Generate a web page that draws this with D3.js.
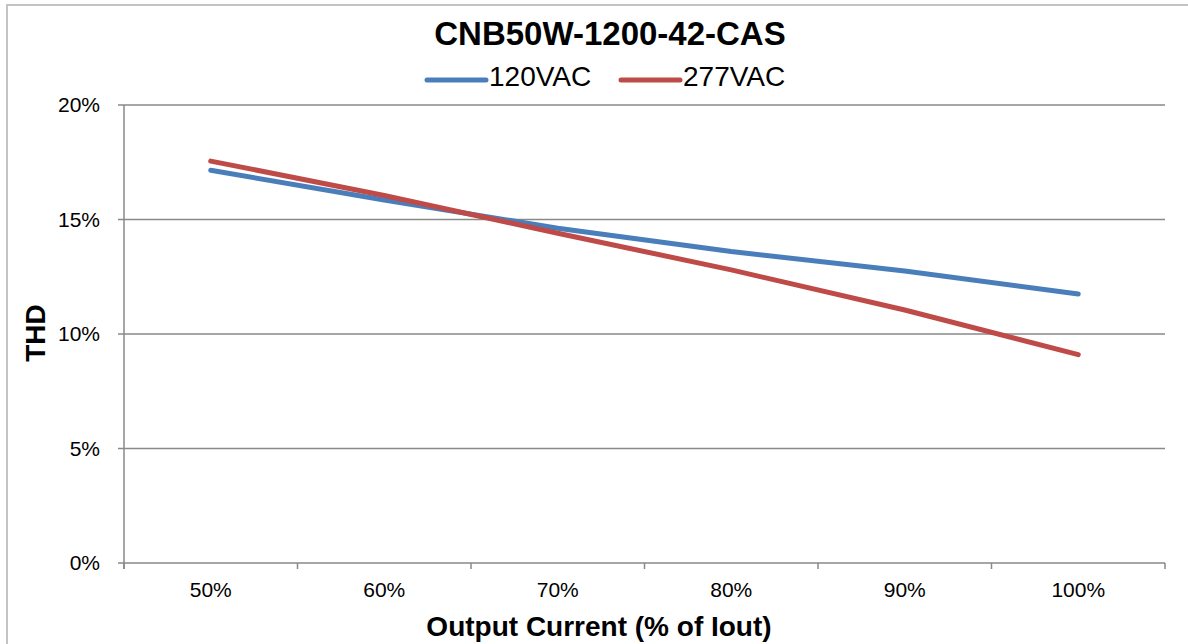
<!DOCTYPE html>
<html>
<head>
<meta charset="utf-8">
<script src="https://cdn.jsdelivr.net/npm/d3@7"></script>
<style>
  body { margin: 0; background: #fff; }
  text { font-family: "Liberation Sans", Arial, sans-serif; fill: #000; }
</style>
</head>
<body>
<svg width="1188" height="644"></svg>
<script>
// data
const categories = ["50%", "60%", "70%", "80%", "90%", "100%"];
const vac120 = [17.15, 15.85, 14.62, 13.6, 12.75, 11.75];
const vac277 = [17.55, 16.05, 14.4, 12.8, 11.05, 9.1];
const yTicks = [0, 5, 10, 15, 20];
const seriesNames = ["120VAC", "277VAC"];
const colors = ["#4a7ebb", "#be4b48"];

const svg = d3.select("svg"),
    margin = {top: 105, right: 23, bottom: 81, left: 124},
    width = 1188 - margin.left - margin.right,
    height = 644 - margin.top - margin.bottom;

// outer chart frame
svg.append("rect")
    .attr("x", 7).attr("y", 5)
    .attr("width", 1200).attr("height", 700)
    .attr("fill", "none")
    .attr("stroke", "#c3c3c3")
    .attr("stroke-width", 2);

const g = svg.append("g")
    .attr("transform", `translate(${margin.left},${margin.top})`);

const x = d3.scaleBand()
    .domain(categories)
    .range([0, width]);

const y = d3.scaleLinear()
    .domain([0, 20])
    .range([height, 0]);

// gridlines
g.append("g")
    .selectAll("line")
    .data(yTicks)
    .enter().append("line")
    .attr("x1", -6)
    .attr("x2", width)
    .attr("y1", d => y(d))
    .attr("y2", d => y(d))
    .attr("stroke", "#898989")
    .attr("stroke-width", 1.5);

// y axis
g.append("line")
    .attr("x1", 0).attr("x2", 0)
    .attr("y1", 0).attr("y2", height + 6)
    .attr("stroke", "#898989")
    .attr("stroke-width", 1.5);

g.append("g")
    .selectAll("text")
    .data(yTicks)
    .enter().append("text")
    .attr("x", -24)
    .attr("y", d => y(d))
    .attr("dy", "0.35em")
    .attr("text-anchor", "end")
    .style("font-size", "21px")
    .text(d => d + "%");

// x axis ticks at band edges
const edges = categories.map(c => x(c)).concat([width]);
g.append("g")
    .selectAll("line")
    .data(edges)
    .enter().append("line")
    .attr("x1", d => d).attr("x2", d => d)
    .attr("y1", height).attr("y2", height + 6)
    .attr("stroke", "#898989")
    .attr("stroke-width", 1.5);

g.append("g")
    .selectAll("text")
    .data(categories)
    .enter().append("text")
    .attr("x", d => x(d) + x.bandwidth() / 2)
    .attr("y", height + 34)
    .attr("text-anchor", "middle")
    .style("font-size", "21px")
    .text(d => d);

// lines
const line = d3.line()
    .x((d, i) => x(categories[i]) + x.bandwidth() / 2)
    .y(d => y(d));

[vac120, vac277].forEach((s, i) => {
    g.append("path")
        .datum(s)
        .attr("d", line)
        .attr("fill", "none")
        .attr("stroke", colors[i])
        .attr("stroke-width", 5)
        .attr("stroke-linecap", "round")
        .attr("stroke-linejoin", "round");
});

// title
svg.append("text")
    .attr("x", 610)
    .attr("y", 45)
    .attr("text-anchor", "middle")
    .style("font-size", "33px")
    .style("font-weight", "bold")
    .text("CNB50W-1200-42-CAS");

// legend
const legendX = [427, 621];
const legend = svg.append("g")
    .selectAll("g")
    .data(seriesNames)
    .enter().append("g")
    .attr("transform", (d, i) => `translate(${legendX[i]},80)`);

legend.append("line")
    .attr("x1", 0).attr("x2", 59)
    .attr("stroke", (d, i) => colors[i])
    .attr("stroke-width", 5)
    .attr("stroke-linecap", "round");

legend.append("text")
    .attr("x", 62)
    .attr("y", 6)
    .style("font-size", "28px")
    .text(d => d);

// axis titles
svg.append("text")
    .attr("x", 599)
    .attr("y", 636)
    .attr("text-anchor", "middle")
    .style("font-size", "28px")
    .style("font-weight", "bold")
    .text("Output Current (% of Iout)");

svg.append("text")
    .attr("transform", "translate(45,333) rotate(-90)")
    .attr("text-anchor", "middle")
    .style("font-size", "28px")
    .style("font-weight", "bold")
    .text("THD");
</script>
</body>
</html>
